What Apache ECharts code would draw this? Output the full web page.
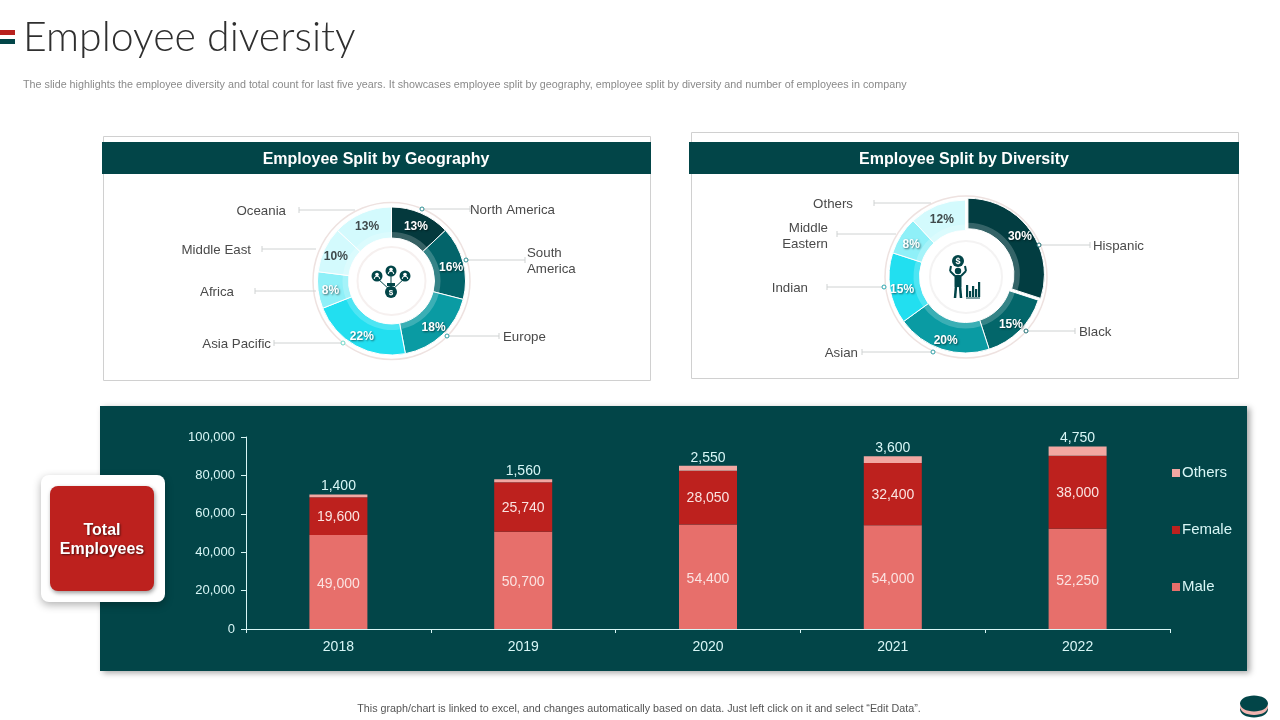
<!DOCTYPE html>
<html>
<head>
<meta charset="utf-8">
<title>Employee diversity</title>
<style>
html, body { margin: 0; padding: 0; background: #fff; }
#chart { width: 1280px; height: 720px; }
</style>
<script src="https://cdn.jsdelivr.net/npm/echarts@6/dist/echarts.min.js"></script>
</head>
<body>
<div id="chart"></div>
<script>
var years = ['2018', '2019', '2020', '2021', '2022'];
var male = [49000, 50700, 54400, 54000, 52250];
var female = [19600, 25740, 28050, 32400, 38000];
var others = [1400, 1560, 2550, 3600, 4750];
var yTicks = { min: 0, max: 100000, interval: 20000 };

var geoNames = ['North America', 'South America', 'Europe', 'Asia Pacific', 'Africa', 'Middle East', 'Oceania'];
var geoShares = [13, 16, 18, 22, 8, 10, 13];
var divNames = ['Hispanic', 'Black', 'Asian', 'Indian', 'Middle Eastern', 'Others'];
var divShares = [30, 15, 20, 15, 8, 12];

var geoColors = ['#04393d', '#03646a', '#0a9ba3', '#22dff0', '#8ff0f8', '#d3fafd', '#d3fafd'];
var geoLabelColors = ['#fff', '#fff', '#fff', '#fff', '#fff', '#404a4c', '#404a4c'];
var divColors = ['#023d41', '#03666a', '#0a9ba3', '#22dff0', '#8ff0f8', '#d3fafd'];
var divLabelColors = ['#fff', '#fff', '#fff', '#fff', '#fff', '#404a4c'];

var TEAL = '#024548';
var PALE = '#d8f6f6';
var SANS = '"Liberation Sans", Arial, sans-serif';

// callouts: text lines, text x/anchor/y, line from (x1) to end (x2) at ly, dot colour if the line ends in a dot
var geoCallouts = [
	{ lines: ['North America'], x: 470, y: 210, align: 'left', x1: 470, x2: 422, ly: 209, dot: '#2f8f94' },
	{ lines: ['South', 'America'], x: 527, y: 261, align: 'left', x1: 525, x2: 466, ly: 260, dot: '#2f8f94' },
	{ lines: ['Europe'], x: 503, y: 337, align: 'left', x1: 499, x2: 447, ly: 336, dot: '#2f9fa6' },
	{ lines: ['Asia Pacific'], x: 271, y: 344, align: 'right', x1: 274, x2: 343, ly: 343, dot: '#6fd8c8' },
	{ lines: ['Africa'], x: 234, y: 292, align: 'right', x1: 255, x2: 316, ly: 291 },
	{ lines: ['Middle East'], x: 251, y: 250, align: 'right', x1: 262, x2: 316, ly: 249 },
	{ lines: ['Oceania'], x: 286, y: 211, align: 'right', x1: 299, x2: 355, ly: 210 }
];
var divCallouts = [
	{ lines: ['Hispanic'], x: 1093, y: 246, align: 'left', x1: 1090, x2: 1039, ly: 245, dot: '#1f6f74' },
	{ lines: ['Black'], x: 1079, y: 332, align: 'left', x1: 1075, x2: 1026, ly: 331, dot: '#1f6f74' },
	{ lines: ['Asian'], x: 858, y: 353, align: 'right', x1: 862, x2: 933, ly: 352, dot: '#2f9fa6' },
	{ lines: ['Indian'], x: 808, y: 288, align: 'right', x1: 827, x2: 884, ly: 287, dot: '#2fa8b0' },
	{ lines: ['Middle', 'Eastern'], x: 828, y: 236, align: 'right', x1: 837, x2: 896, ly: 234 },
	{ lines: ['Others'], x: 853, y: 204, align: 'right', x1: 874, x2: 931, ly: 203 }
];

function txt(text, x, y, font, fill, align, extra) {
	var style = { text: text, x: x, y: y, font: font, fill: fill, align: align || 'left', verticalAlign: 'middle' };
	if (extra) { for (var k in extra) style[k] = extra[k]; }
	return { type: 'text', z: 6, silent: true, style: style };
}
function box(x, y, w, h, style, r, z) {
	return { type: 'rect', z: z || 0, silent: true, shape: { x: x, y: y, width: w, height: h, r: r || 0 }, style: style };
}
function seg(x1, y1, x2, y2, color, width, z) {
	return { type: 'line', z: z || 6, silent: true, shape: { x1: x1, y1: y1, x2: x2, y2: y2 }, style: { stroke: color, lineWidth: width || 1 } };
}
function ring(cx, cy, r, stroke, width, fill) {
	return { type: 'circle', z: 1, silent: true, shape: { cx: cx, cy: cy, r: r }, style: { fill: fill || 'transparent', stroke: stroke, lineWidth: width } };
}
function dot(cx, cy, r, fill) {
	return { type: 'circle', z: 6, silent: true, shape: { cx: cx, cy: cy, r: r }, style: { fill: fill } };
}

function callouts(list) {
	var out = [];
	list.forEach(function (c) {
		var lh = 16;
		var top = c.y - (c.lines.length - 1) * lh / 2;
		c.lines.forEach(function (t, i) {
			out.push(txt(t, c.x, top + i * lh, '13.3px ' + SANS, '#4a4a4a', c.align));
		});
		out.push(seg(c.x1, c.ly, c.x2, c.ly, '#cfd2d2', 1));
		out.push(seg(c.x1, c.ly - 3, c.x1, c.ly + 3, '#cfd2d2', 1));
		if (c.dot) {
			out.push({ type: 'circle', z: 7, silent: true, shape: { cx: c.x2, cy: c.ly, r: 2 }, style: { fill: '#fff', stroke: c.dot, lineWidth: 1 } });
		}
	});
	return out;
}

function personBadge(cx, cy) {
	return [
		dot(cx, cy, 5.5, TEAL),
		dot(cx, cy - 1.5, 1.8, '#fff'),
		{ type: 'arc', z: 7, silent: true, shape: { cx: cx, cy: cy + 3, r: 2.8, startAngle: Math.PI, endAngle: 0 }, style: { stroke: '#fff', fill: 'transparent', lineWidth: 1 } }
	];
}
function geoIcon() {
	var out = [
		seg(377, 278, 391, 291, TEAL, 1),
		seg(405, 278, 391, 291, TEAL, 1),
		seg(391, 272, 391, 291, TEAL, 1),
		dot(391, 292, 6, TEAL),
		box(387, 283, 8, 3, { fill: TEAL }, 0, 6),
		txt('$', 391, 292.5, 'bold 8px ' + SANS, '#fff', 'center')
	];
	return out.concat(personBadge(377, 276), personBadge(391, 271), personBadge(405, 276));
}
function divIcon() {
	var out = [
		dot(958, 261, 6, TEAL),
		txt('$', 958, 261.5, 'bold 9px ' + SANS, '#fff', 'center'),
		dot(958, 271, 3.2, TEAL),
		box(954.5, 275, 7, 12, { fill: TEAL }, 1, 6),
		seg(955, 276, 950, 271, TEAL, 2),
		seg(950, 271, 951, 266, TEAL, 2),
		seg(961, 276, 966, 271, TEAL, 2),
		seg(966, 271, 965, 266, TEAL, 2),
		seg(956, 286, 955, 298, TEAL, 2.5),
		seg(960, 286, 961, 298, TEAL, 2.5),
		seg(966, 298, 980, 298, TEAL, 1)
	];
	[[967, 285], [970, 291], [973, 286], [976, 289], [979, 282]].forEach(function (b) {
		out.push(box(b[0] - 1, b[1], 2.2, 297 - b[1], { fill: TEAL }, 0, 6));
	});
	return out;
}

function pieSeries(names, shares, colors, labelColors, center, outer, inner, band, picked, labelOffset) {
	var main = names.map(function (n, i) {
		return {
			name: n, value: shares[i], selected: i === picked,
			itemStyle: { color: colors[i] },
			label: {
				color: labelColors[i],
				offset: i === picked ? [labelOffset[0] - 3, labelOffset[1]] : labelOffset,
				textShadowColor: labelColors[i] === '#fff' ? 'rgba(0,0,0,0.55)' : 'transparent',
				textShadowBlur: 2, textShadowOffsetX: 1, textShadowOffsetY: 1
			}
		};
	});
	var overlay = names.map(function (n, i) {
		return { name: n, value: shares[i], selected: i === picked };
	});
	return [{
		type: 'pie', z: 3, animation: false, center: center, radius: [inner, outer],
		startAngle: 90, clockwise: true, selectedMode: 'single', selectedOffset: 3,
		itemStyle: { borderColor: '#fff', borderWidth: 1 },
		label: { show: true, position: 'inside', formatter: '{c}%', fontFamily: SANS, fontSize: 12, fontWeight: 'bold' },
		labelLine: { show: false },
		data: main
	}, {
		type: 'pie', z: 4, silent: true, animation: false, center: center, radius: [inner, band],
		startAngle: 90, clockwise: true, selectedMode: 'single', selectedOffset: 3,
		itemStyle: { color: 'rgba(255,255,255,0.2)', borderWidth: 0 },
		label: { show: false }, labelLine: { show: false },
		data: overlay
	}];
}

var shapes = [
	// header marks and page text
	box(0, 30, 15, 5, { fill: '#b8211e' }),
	box(0, 39, 15, 5, { fill: TEAL }),
	txt('Employee diversity', 23, 38, '300 41px Lato, sans-serif', '#2f2f2f', 'left'),
	txt('The slide highlights the employee diversity and total count for last five years. It showcases employee split by geography, employee split by diversity and number of employees in company',
		23, 85, '10.75px ' + SANS, '#8a8a8a', 'left'),
	txt('This graph/chart is linked to excel, and changes automatically based on data. Just left click on it and select \u201cEdit Data\u201d.',
		639, 709.5, '10.75px ' + SANS, '#555', 'center'),

	// pie cards
	box(103.5, 136.5, 547, 244, { fill: '#fff', stroke: '#d0d0d0', lineWidth: 1 }),
	box(691.5, 132.5, 547, 246, { fill: '#fff', stroke: '#d0d0d0', lineWidth: 1 }),
	box(102, 142, 549, 32, { fill: TEAL }),
	box(689, 142, 550, 32, { fill: TEAL }),
	txt('Employee Split by Geography', 376, 160, 'bold 16px ' + SANS, '#fff', 'center'),
	txt('Employee Split by Diversity', 964, 160, 'bold 16px ' + SANS, '#fff', 'center'),

	// bar panel
	box(100, 406, 1147, 265, { fill: TEAL, shadowBlur: 6, shadowColor: 'rgba(0,0,0,0.35)', shadowOffsetX: 3, shadowOffsetY: 2 }),

	// total employees card
	box(41, 475, 124, 127, { fill: '#fff', shadowBlur: 8, shadowColor: 'rgba(0,0,0,0.3)', shadowOffsetX: 0, shadowOffsetY: 3 }, 8, 5),
	box(50, 486, 104, 105, { fill: '#bd211e', shadowBlur: 4, shadowColor: 'rgba(0,0,0,0.4)', shadowOffsetX: 1, shadowOffsetY: 2 }, 8, 5),
	txt('Total', 102, 531, 'bold 16px ' + SANS, '#fff', 'center', { textShadowColor: 'rgba(0,0,0,0.6)', textShadowBlur: 2, textShadowOffsetX: 1, textShadowOffsetY: 1 }),
	txt('Employees', 102, 550, 'bold 16px ' + SANS, '#fff', 'center', { textShadowColor: 'rgba(0,0,0,0.6)', textShadowBlur: 2, textShadowOffsetX: 1, textShadowOffsetY: 1 }),

	// rings around the donuts
	ring(391.5, 281, 78.5, '#eee2e0', 1.5),
	ring(391.5, 281, 34, '#f6f0ef', 2),
	ring(966, 277, 81, '#eee2e0', 1.5),
	ring(966, 277, 36, '#f4f3f3', 2),

	// bottom-right badge
	{ type: 'ellipse', z: 1, silent: true, shape: { cx: 1254, cy: 709.5, rx: 14, ry: 8 }, style: { fill: TEAL } },
	{ type: 'ellipse', z: 1, silent: true, shape: { cx: 1254, cy: 707, rx: 14, ry: 8 }, style: { fill: '#f2b5b0' } },
	{ type: 'ellipse', z: 1, silent: true, shape: { cx: 1254, cy: 703.5, rx: 14, ry: 8 }, style: { fill: TEAL } }
].concat(callouts(geoCallouts), callouts(divCallouts), geoIcon(), divIcon());

function barLabel(color, position, offset, distance) {
	return {
		show: true, position: position, offset: offset, distance: distance, color: color,
		fontFamily: SANS, fontSize: 14,
		formatter: function (p) { return p.value.toLocaleString('en-US'); }
	};
}

var option = {
	animation: false,
	backgroundColor: '#fff',
	graphic: { elements: shapes },
	grid: { left: 246, right: 110, top: 437, bottom: 91, containLabel: false },
	legend: {
		orient: 'vertical', left: 1167, top: 459, itemWidth: 8, itemHeight: 8, itemGap: 39,
		icon: 'rect', selectedMode: false,
		data: ['Others', 'Female', 'Male'],
		textStyle: { color: PALE, fontFamily: SANS, fontSize: 15, padding: [0, 0, 0, -3], height: 18, lineHeight: 18 }
	},
	xAxis: {
		type: 'category', data: years,
		axisLine: { lineStyle: { color: PALE, width: 1 } },
		axisTick: { show: true, length: 4, inside: false, lineStyle: { color: PALE } },
		axisLabel: { color: PALE, fontFamily: SANS, fontSize: 14, margin: 11 }
	},
	yAxis: {
		type: 'value', min: yTicks.min, max: yTicks.max, interval: yTicks.interval,
		axisLine: { show: true, lineStyle: { color: PALE, width: 1 } },
		axisTick: { show: true, length: 5, lineStyle: { color: PALE } },
		splitLine: { show: false },
		axisLabel: { color: PALE, fontFamily: SANS, fontSize: 13, margin: 11, padding: [3, 0, 0, 0], formatter: function (v) { return v.toLocaleString('en-US'); } }
	},
	series: [
		{ name: 'Male', type: 'bar', stack: 'total', z: 3, barWidth: 58, itemStyle: { color: '#e76f6b' }, label: barLabel('#fbe3e1', 'inside', [0, 2]), data: male },
		{ name: 'Female', type: 'bar', stack: 'total', z: 3, barWidth: 58, itemStyle: { color: '#bd211e' }, label: barLabel('#fbe3e1', 'inside', [0, 1]), data: female },
		{ name: 'Others', type: 'bar', stack: 'total', z: 3, barWidth: 58, itemStyle: { color: '#f2a7a2' }, label: barLabel(PALE, 'top', [0, 0], 1), data: others }
	].concat(
		pieSeries(geoNames, geoShares, geoColors, geoLabelColors, [391.5, 281], 74, 43, 49, -1, [0, 2]),
		pieSeries(divNames, divShares, divColors, divLabelColors, [965.5, 276.5], 76.5, 46, 52, 0, [0, 3])
	)
};

var ins = echarts.init(document.getElementById('chart'), null, { renderer: 'canvas' });
ins.setOption(option);
</script>
</body>
</html>
